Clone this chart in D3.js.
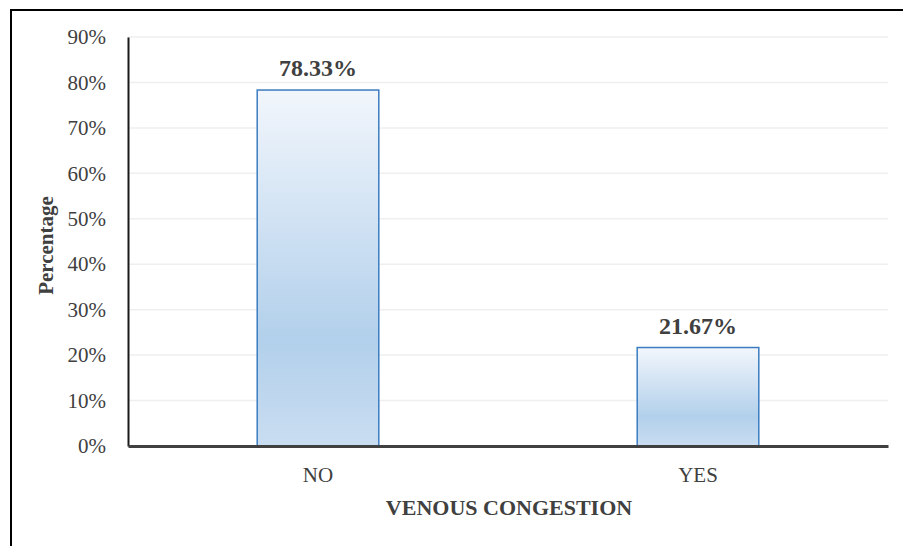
<!DOCTYPE html>
<html>
<head>
<meta charset="utf-8">
<script src="https://cdn.jsdelivr.net/npm/d3@7"></script>
<style>
  html, body { margin: 0; padding: 0; background: #fff; }
  svg { display: block; }
</style>
</head>
<body>
<svg id="chart" width="903" height="546"></svg>
<script>
// Venous congestion distribution
const categories = ["NO", "YES"];
const percentages = [78.33, 21.67];
const valueLabels = ["78.33%", "21.67%"];
const yTicks = [0, 10, 20, 30, 40, 50, 60, 70, 80, 90];
const xTitle = "VENOUS CONGESTION";
const yTitle = "Percentage";

const svg = d3.select("#chart");
const W = 903, H = 546;
const margin = { left: 128, right: 15, top: 37, bottom: 100 };
const font = "'Liberation Serif', 'Times New Roman', serif";
const textColor = "#404040";

// Outer frame (left and top edges)
svg.append("path")
  .attr("d", `M11,${H} L11,10 L${W},10`)
  .attr("fill", "none").attr("stroke", "#000").attr("stroke-width", 2);

const x = d3.scaleBand().domain(categories)
  .range([margin.left, W - margin.right]).paddingInner(0.68).paddingOuter(0.34);
const y = d3.scaleLinear().domain([0, 90]).range([H - margin.bottom, margin.top]);

// Gradient for bars
const defs = svg.append("defs");
const grad = defs.append("linearGradient").attr("id", "barGrad")
  .attr("x1", 0).attr("y1", 0).attr("x2", 0).attr("y2", 1);
grad.append("stop").attr("offset", "0%").attr("stop-color", "#f2f6fc");
grad.append("stop").attr("offset", "70%").attr("stop-color", "#b2d0eb");
grad.append("stop").attr("offset", "100%").attr("stop-color", "#c9ddf1");

// Gridlines
svg.append("g").selectAll("line").data(yTicks.filter(t => t > 0)).join("line")
  .attr("x1", margin.left).attr("x2", W - margin.right)
  .attr("y1", d => y(d)).attr("y2", d => y(d))
  .attr("stroke", "#efefef").attr("stroke-width", 1.5);

// Y axis
const yAxis = svg.append("g").attr("transform", `translate(${margin.left},0)`)
  .call(d3.axisLeft(y).tickValues(yTicks).tickFormat(d => d + "%").tickSize(0).tickPadding(22));
yAxis.select(".domain").attr("stroke", "#1a1a1a").attr("stroke-width", 2);
yAxis.selectAll("text").attr("font-family", font).attr("font-size", 21).attr("fill", textColor);

// Bars
svg.append("g").selectAll("rect").data(categories).join("rect")
  .attr("x", d => x(d))
  .attr("y", (d, i) => y(percentages[i]))
  .attr("width", x.bandwidth())
  .attr("height", (d, i) => y(0) - y(percentages[i]))
  .attr("fill", "url(#barGrad)")
  .attr("stroke", "#3b7cc0").attr("stroke-width", 1.5);

// X axis
const xAxis = svg.append("g").attr("transform", `translate(0,${y(0)})`)
  .call(d3.axisBottom(x).tickSize(0).tickPadding(21));
xAxis.select(".domain").attr("stroke", "#404040").attr("stroke-width", 3);
xAxis.selectAll("text").attr("font-family", font).attr("font-size", 21).attr("fill", textColor);

// Value labels
svg.append("g").selectAll("text").data(categories).join("text")
  .attr("x", d => x(d) + x.bandwidth() / 2)
  .attr("y", (d, i) => y(percentages[i]) - 14)
  .attr("text-anchor", "middle")
  .attr("font-family", font).attr("font-size", 24).attr("font-weight", "bold")
  .attr("fill", textColor)
  .text((d, i) => valueLabels[i]);

// Axis titles
svg.append("text")
  .attr("x", (margin.left + W - margin.right) / 2 + 1).attr("y", 515)
  .attr("text-anchor", "middle")
  .attr("font-family", font).attr("font-size", 22).attr("font-weight", "bold")
  .attr("fill", textColor).text(xTitle);

svg.append("text")
  .attr("transform", `translate(53,${(margin.top + y(0)) / 2 + 4}) rotate(-90)`)
  .attr("text-anchor", "middle")
  .attr("font-family", font).attr("font-size", 21).attr("font-weight", "bold")
  .attr("fill", textColor).text(yTitle);
</script>
</body>
</html>
